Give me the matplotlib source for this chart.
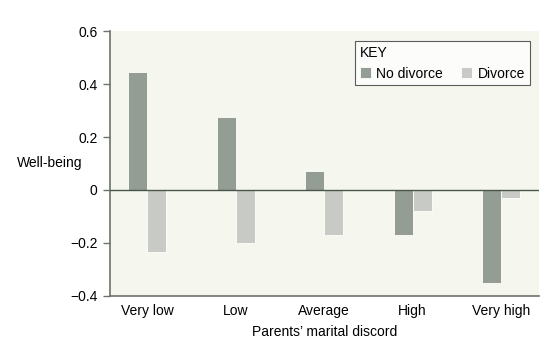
import matplotlib.pyplot as plt
import numpy as np

plt.rcParams['font.family'] = ['Liberation Sans', 'DejaVu Sans']

# data
categories = ['Very low', 'Low', 'Average', 'High', 'Very high']
no_divorce = [0.445, 0.275, 0.07, -0.17, -0.35]
divorce = [-0.235, -0.2, -0.17, -0.08, -0.03]
yticks = [-0.4, -0.2, 0, 0.2, 0.4, 0.6]
ytick_labels = ['\u22120.4', '\u22120.2', '0', '0.2', '0.4', '0.6']

dark = '#939d93'
light = '#c8cbc5'
bg = '#f5f7ef'
axis_col = '#6b736b'

fig = plt.figure(figsize=(5.53, 3.42), dpi=100)
ax = fig.add_axes([0.199, 0.135, 0.776, 0.774])
ax.set_facecolor(bg)

x = np.arange(len(categories))
w = 0.215
ax.bar(x - w / 2, no_divorce, w, color=dark, edgecolor='white', linewidth=0.6, label='No divorce', zorder=2)
ax.bar(x + w / 2, divorce, w, color=light, edgecolor='white', linewidth=0.6, label='Divorce', zorder=2)
ax.axhline(0, color='#4a554a', linewidth=1.0, zorder=3)

ax.set_xlim(-0.42, 4.43)
ax.set_ylim(-0.4, 0.6)
ax.set_yticks(yticks)
ax.set_yticklabels(ytick_labels, fontsize=10)
ax.set_xticks(x)
ax.set_xticklabels(categories, fontsize=10)
ax.tick_params(axis='x', length=0, pad=6)
ax.tick_params(axis='y', direction='out', length=5, width=1, color=axis_col, pad=4)

for s in ['top', 'right']:
    ax.spines[s].set_visible(False)
for s in ['left', 'bottom']:
    ax.spines[s].set_color(axis_col)
    ax.spines[s].set_linewidth(1.2)

ax.set_xlabel("Parents\u2019 marital discord", fontsize=10, labelpad=5)
fig.text(0.03, 0.523, 'Well-being', fontsize=10, va='center', ha='left')

leg = ax.legend(title='KEY', loc='upper right', ncol=2, fontsize=10, title_fontsize=10,
                frameon=True, fancybox=False, handlelength=0.8, handleheight=0.8,
                handletextpad=0.4, columnspacing=1.3, borderpad=0.35,
                bbox_to_anchor=(0.995, 0.99))
leg._legend_box.align = 'left'
leg.get_frame().set_edgecolor('#333333')
leg.get_frame().set_linewidth(0.8)
leg.get_frame().set_facecolor('white')

fig.savefig('out.png', dpi=100)
